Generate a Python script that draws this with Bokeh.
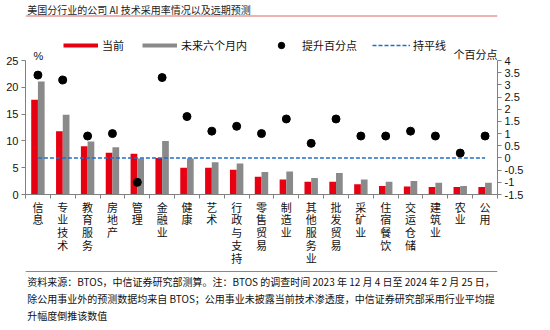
from bokeh.plotting import figure
from bokeh.models import Range1d, LinearAxis, FixedTicker, Legend, LegendItem, Label, ColumnDataSource
from bokeh.layouts import column
from bokeh.transform import dodge
from bokeh.embed import file_html
from bokeh.resources import INLINE
from bokeh.core.properties import value

# ---------------- data ----------------
title_text = "美国分行业的公司 AI 技术采用率情况以及远期预测"
categories = ["信息", "专业技术", "教育服务", "房地产", "管理", "金融业", "健康", "艺术",
              "行政与支持", "零售贸易", "制造业", "其他服务业", "批发贸易", "采矿业",
              "住宿餐饮", "交运仓储", "建筑业", "农业", "公用"]
current = [17.7, 11.8, 9.0, 7.8, 7.6, 6.8, 5.0, 5.0, 4.6, 3.3, 2.8, 2.4, 2.4, 1.9,
           1.6, 1.5, 1.4, 1.4, 1.4]
next_six_months = [21.1, 14.9, 9.9, 8.8, 6.7, 10.0, 6.7, 6.0, 5.8, 4.2, 4.3, 3.1, 4.0, 2.8,
                   2.4, 2.5, 2.2, 1.6, 2.2]
increase_pp = [3.4, 3.2, 0.9, 1.0, -1.0, 3.3, 1.7, 1.1, 1.3, 1.0, 1.6, 0.6, 1.6, 0.9,
               0.9, 1.1, 0.9, 0.2, 0.9]
flat_level = 0
left_ticks = [0, 5, 10, 15, 20, 25]
right_ticks = [-1.5, -1, -0.5, 0, 0.5, 1, 1.5, 2, 2.5, 3, 3.5, 4]
right_tick_labels = ["-1.5", "-1", "-0.5", "0", "0.5", "1", "1.5", "2", "2.5", "3", "3.5", "4"]
series_names = ["当前", "未来六个月内", "提升百分点", "持平线"]
left_unit = "%"
right_unit = "个百分点"
footer_lines = [
    "资料来源：BTOS，中信证券研究部测算。注：BTOS 的调查时间 2023 年 12 月 4 日至 2024 年 2 月 25 日，",
    "除公用事业外的预测数据均来自 BTOS；公用事业未披露当前技术渗透度，中信证券研究部采用行业平均提",
    "升幅度倒推该数值",
]

# ---------------- styles ----------------
RED = "#E60012"
GRAY = "#8A8A8A"
BLUE = "#1F6FC5"
AXIS = "#808080"
CJK = "Noto Sans CJK SC"
LAT = "Liberation Sans"
RULE = "#D9666A"

n = len(categories)
xs = list(range(n))


def blank(fig):
    fig.axis.visible = False
    fig.grid.visible = False
    fig.outline_line_color = None


# ---------------- header ----------------
H_HEAD = 18
head = figure(width=550, height=H_HEAD, x_range=Range1d(0, 550), y_range=Range1d(0, H_HEAD),
              min_border=0, output_backend="svg", toolbar_location=None)
blank(head)
head.text(x=[2], y=[H_HEAD - 8.5], text=[title_text], text_font=value(CJK),
          text_font_size="10px", text_baseline="middle", text_align="left", text_color="#222222")
head.line(x=[0, 550], y=[H_HEAD - 15.5] * 2, line_color=RULE, line_width=1)

# ---------------- main chart ----------------
H_MAIN = 252
TOP_BORDER = 10
BOTTOM_BORDER = 76
frame_h = H_MAIN - TOP_BORDER - BOTTOM_BORDER     # frame incl. legend zone
axis_h = 134                                       # pixel height of the value axes
stretch = frame_h / axis_h
left_lo, left_hi = left_ticks[0], left_ticks[-1]
right_lo, right_hi = right_ticks[0], right_ticks[-1]

p = figure(width=550, height=H_MAIN, x_range=Range1d(-0.5, n - 0.5),
           y_range=Range1d(left_lo, left_lo + (left_hi - left_lo) * stretch),
           output_backend="svg", toolbar_location=None,
           min_border_left=25, min_border_right=53, min_border_top=TOP_BORDER,
           min_border_bottom=BOTTOM_BORDER)
p.grid.visible = False
p.outline_line_color = None
p.background_fill_color = None
p.border_fill_color = "white"
p.extra_y_ranges = {"right": Range1d(right_lo, right_lo + (right_hi - right_lo) * stretch)}

src = ColumnDataSource(dict(x=xs, cur=current, nxt=next_six_months, inc=increase_pp))

p.vbar(x=dodge("x", -0.135), top="cur", width=0.27, source=src, fill_color=RED, line_color=None)
p.vbar(x=dodge("x", 0.135), top="nxt", width=0.27, source=src, fill_color=GRAY, line_color=None)
r_flat = p.line(x=[xs[0], xs[-1]], y=[flat_level, flat_level], y_range_name="right",
                line_color=BLUE, line_width=1.5, line_dash="4 2")
r_dot = p.scatter("x", "inc", source=src, y_range_name="right", size=8,
                  fill_color="black", line_color="black")

# legend swatches (proxy renderers holding a single NaN so nothing shows in the plot)
nan = float("nan")
r_leg_red = p.line(x=[xs[0]], y=[nan], line_color=RED, line_width=4)
r_leg_gray = p.line(x=[xs[0]], y=[nan], line_color=GRAY, line_width=4)

# x axis
xa = p.xaxis[0]
xa.ticker = FixedTicker(ticks=xs, minor_ticks=[i - 0.5 for i in range(n + 1)])
xa.major_label_overrides = {i: "\n".join(c) for i, c in enumerate(categories)}
xa.major_tick_out = 0
xa.major_tick_in = 0
xa.minor_tick_out = 4
xa.minor_tick_in = 0
xa.minor_tick_line_color = AXIS
xa.axis_line_color = AXIS
xa.major_label_standoff = 0
xa.major_label_text_font = CJK
xa.major_label_text_font_size = "11px"
xa.major_label_text_color = "#111111"
xa.major_label_text_line_height = 0.8

# left axis
ya = p.yaxis[0]
ya.ticker = FixedTicker(ticks=left_ticks)
ya.bounds = (left_lo, left_hi)
ya.major_tick_out = 4
ya.major_tick_in = 0
ya.minor_tick_line_color = None
ya.axis_line_color = AXIS
ya.major_tick_line_color = AXIS
ya.major_label_text_font = LAT
ya.major_label_text_font_size = "11px"
ya.major_label_text_color = "#111111"
ya.major_label_standoff = 3

# right axis
ra = LinearAxis(y_range_name="right", ticker=FixedTicker(ticks=right_ticks),
                bounds=(right_lo, right_hi),
                major_label_overrides=dict(zip(right_ticks, right_tick_labels)))
ra.major_tick_out = 4
ra.major_tick_in = 0
ra.minor_tick_line_color = None
ra.axis_line_color = AXIS
ra.major_tick_line_color = AXIS
ra.major_label_text_font = LAT
ra.major_label_text_font_size = "11px"
ra.major_label_text_color = "#111111"
ra.major_label_standoff = 3
p.add_layout(ra, "right")

# legends (location: bottom-left corner relative to the frame)
def add_legend(renderer, label, loc, gw, gh, standoff):
    lg = Legend(items=[LegendItem(label=label, renderers=[renderer])], location=loc,
                orientation="horizontal", glyph_width=gw, glyph_height=gh,
                label_standoff=standoff, padding=0, margin=0, spacing=0,
                border_line_color=None, background_fill_alpha=0,
                label_text_font=CJK, label_text_font_size="11px",
                label_text_color="#111111", label_height=gh)
    p.add_layout(lg)

add_legend(r_leg_red, series_names[0], (38, 139), 35, 20, 4)
add_legend(r_leg_gray, series_names[1], (117, 139), 35, 20, 4)
add_legend(r_dot, series_names[2], (248, 141), 16, 16, 13)
add_legend(r_flat, series_names[3], (347, 139), 38, 20, 3)

p.add_layout(Label(x=13, y=139, x_units="screen", y_units="screen", text=left_unit,
                   text_align="center", text_baseline="middle", text_font=LAT,
                   text_font_size="11px", text_color="#111111"))
p.add_layout(Label(x=472, y=141, x_units="screen", y_units="screen", text=right_unit,
                   text_align="right", text_baseline="middle", text_font=CJK,
                   text_font_size="11px", text_color="#111111"))

# ---------------- footer ----------------
H_FOOT = 330 - H_HEAD - H_MAIN
foot = figure(width=550, height=H_FOOT, x_range=Range1d(0, 550), y_range=Range1d(0, H_FOOT),
              min_border=0, output_backend="svg", toolbar_location=None)
blank(foot)
top_abs = H_HEAD + H_MAIN
foot.line(x=[0, 550], y=[H_FOOT - (271 - top_abs)] * 2, line_color=RULE, line_width=1)
line_y = [H_FOOT - (yy - top_abs) for yy in (281, 298, 315)]
foot.text(x=[2, 2, 2], y=line_y, text=footer_lines, text_font=value(CJK),
          text_font_size="10px", text_baseline="middle", text_align="left", text_color="#111111")

layout = column(head, p, foot, spacing=0)
open("out.html", "w").write(file_html(layout, INLINE))
